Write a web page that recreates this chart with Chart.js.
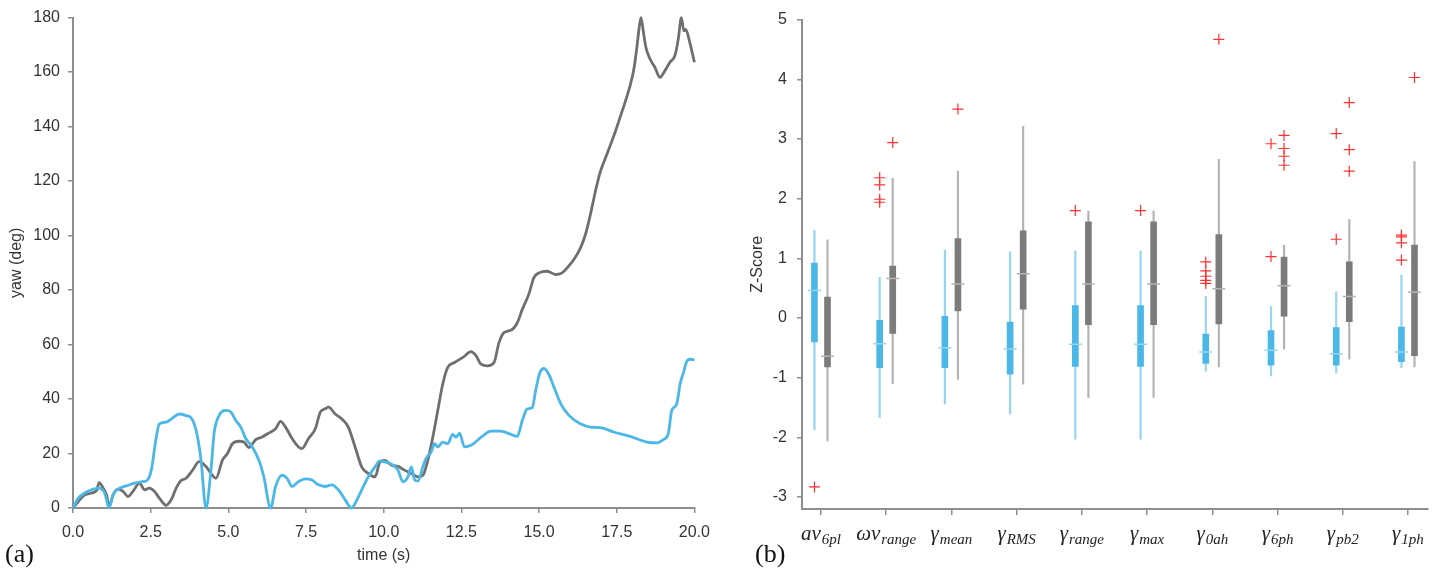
<!DOCTYPE html>
<html>
<head>
<meta charset="utf-8">
<script src="https://cdn.jsdelivr.net/npm/chart.js@4.4.1/dist/chart.umd.min.js"></script>
<style>
  body { margin: 0; background: #fff; width: 1437px; height: 569px; overflow: hidden; position: relative; }
  canvas { position: absolute; top: 0; }
  #yawChart { left: 0; }
  #zChart { left: 720px; }
  .tag { position: absolute; font-family: 'Liberation Serif', serif; font-size: 26px; line-height: 26px; color: #111; }
</style>
</head>
<body>
<canvas id="yawChart" width="720" height="569"></canvas>
<canvas id="zChart" width="717" height="569"></canvas>
<div class="tag" style="left:5px; top:541px">(a)</div>
<div class="tag" style="left:755px; top:541px">(b)</div>
<script>
// (a) yaw vs time
const blueTime = [0, 0.17, 0.38, 0.6, 0.81, 0.92, 1.02, 1.16, 1.29, 1.45, 1.72, 1.98, 2.25, 2.38, 2.52, 2.68, 2.78, 3.0, 3.21, 3.42,
  3.64, 3.8, 3.9, 4.01, 4.12, 4.28, 4.44, 4.54, 4.7, 4.92, 5.08, 5.24, 5.4, 5.56, 5.77, 5.98, 6.14, 6.36, 6.52, 6.73,
  6.89, 7.05, 7.26, 7.48, 7.69, 7.9, 8.12, 8.33, 8.54, 8.76, 8.97, 9.08, 9.29, 9.5, 9.72, 9.88, 10.04, 10.25, 10.46, 10.62,
  10.78, 10.89, 11.0, 11.1, 11.26, 11.36, 11.53, 11.64, 11.74, 11.9, 12.06, 12.22, 12.33, 12.44, 12.6, 12.81, 13.14, 13.45, 13.77, 14.1,
  14.3, 14.46, 14.62, 14.78, 14.89, 15.03, 15.16, 15.32, 15.48, 15.7, 15.96, 16.33, 16.65, 16.97, 17.4, 17.93, 18.47, 18.79, 19.0, 19.16,
  19.27, 19.43, 19.54, 19.65, 19.76, 19.86, 20.0]
const blueYaw = [0, 3.6, 5.5, 6.7, 7.3, 6.9, 5.5, 0, 4.8, 6.9, 8.1, 9.1, 9.7, 10.1, 13.9, 26, 30.9, 31.5, 33.1, 34.5,
  33.9, 33.1, 30.9, 26, 17.6, 0, 13.9, 27.3, 33.9, 35.8, 35.2, 32.1, 29.7, 25.5, 22.4, 17.6, 11.5, 0, 7.9, 12.1,
  10.9, 7.9, 9.7, 10.7, 10.3, 8.5, 7.9, 8.5, 6.7, 3.0, 0, 1.7, 6.6, 11.4, 15.1, 17.3, 16.9, 16.1, 13.9, 9.6,
  11.4, 15.1, 10.2, 9.9, 15.1, 18.1, 20.6, 23.6, 22.4, 24.2, 23.6, 27.0, 26.0, 27.5, 22.4, 23.0, 26.0, 28.2, 28.2, 27.0,
  26.3, 32.1, 36.4, 36.8, 43.1, 49.8, 51.2, 48.9, 44.3, 38.2, 34.0, 30.9, 29.7, 29.5, 27.9, 26.3, 24.2, 23.9, 25.1, 27.3,
  35.8, 38.2, 45.5, 49.8, 54.0, 54.6, 54.3]

const greyTime = [0, 0.17, 0.38, 0.6, 0.76, 0.84, 0.97, 1.08, 1.16, 1.29, 1.45, 1.61, 1.77, 1.93, 2.14, 2.3, 2.46, 2.62, 2.78, 3.0,
  3.16, 3.32, 3.48, 3.64, 3.85, 4.06, 4.28, 4.44, 4.6, 4.81, 4.97, 5.13, 5.34, 5.5, 5.66, 5.88, 6.09, 6.3, 6.52, 6.68,
  6.84, 7.05, 7.26, 7.37, 7.58, 7.8, 7.96, 8.12, 8.22, 8.44, 8.65, 8.86, 9.08, 9.29, 9.5, 9.72, 9.88, 10.04, 10.25, 10.46,
  10.67, 10.89, 11.1, 11.26, 11.42, 11.58, 11.74, 11.9, 12.06, 12.28, 12.55, 12.81, 12.97, 13.13, 13.34, 13.55, 13.71, 13.87, 14.09, 14.3,
  14.46, 14.67, 14.83, 15.0, 15.26, 15.53, 15.74, 15.9, 16.12, 16.33, 16.49, 16.65, 16.81, 16.97, 17.13, 17.29, 17.45, 17.61, 17.77, 17.93,
  18.06, 18.14, 18.23, 18.28, 18.36, 18.44, 18.57, 18.73, 18.89, 19.05, 19.21, 19.37, 19.48, 19.58, 19.66, 19.72, 19.85, 20.0]
const greyYaw = [0, 2.4, 4.8, 5.5, 6.4, 9.3, 7.3, 4.8, 0.6, 4.8, 6.9, 6.1, 4.2, 6.1, 9.1, 6.7, 7.3, 6.1, 3.6, 1.0,
  3.0, 7.3, 10.1, 10.9, 13.9, 17.0, 15.2, 12.7, 10.9, 17.6, 20.0, 23.6, 24.5, 24.2, 22.2, 25.1, 26.1, 27.5, 29.1, 31.8,
  29.7, 25.5, 22.4, 21.8, 25.5, 29.1, 35.2, 36.4, 37.0, 34.5, 32.7, 29.7, 22.4, 15.1, 12.7, 11.4, 16.9, 17.5, 15.7, 15.3,
  13.9, 12.7, 11.4, 12.0, 17.5, 26.0, 35.8, 45.5, 51.6, 53.4, 55.3, 57.4, 55.9, 52.8, 52.2, 53.4, 60.7, 64.4, 65.2, 68.0,
  72.9, 78.5, 84.5, 86.3, 86.9, 85.7, 86.3, 88.1, 91.2, 95.4, 100.3, 107.6, 116.1, 123.4, 128.3, 133.1, 138.0, 143.5, 149.0, 155.0,
  161.7, 168.4, 177.0, 180, 174.5, 169.0, 164.8, 161.7, 158.1, 160.5, 163.6, 166.0, 172.1, 180, 175.1, 175.7, 170.9, 163.6]

const timeTicks = [0, 2.5, 5, 7.5, 10, 12.5, 15, 17.5, 20]
const yawTicks = [0, 20, 40, 60, 80, 100, 120, 140, 160, 180]

// (b) z-score box plots
const featMain = ['av', 'ωv', 'γ', 'γ', 'γ', 'γ', 'γ', 'γ', 'γ', 'γ']
const featSub = ['6pl', 'range', 'mean', 'RMS', 'range', 'max', '0ah', '6ph', 'pb2', '1ph']
const zTicks = [-3, -2, -1, 0, 1, 2, 3, 4, 5]

const blueLow = [-1.87, -1.67, -1.44, -1.61, -2.03, -2.03, -0.89, -0.97, -0.92, -0.83]
const blueQ1 = [-0.40, -0.83, -0.83, -0.94, -0.81, -0.81, -0.76, -0.79, -0.79, -0.73]
const blueMed = [0.46, -0.43, -0.50, -0.52, -0.44, -0.44, -0.57, -0.54, -0.60, -0.57]
const blueQ3 = [0.92, -0.04, 0.03, -0.07, 0.21, 0.21, -0.27, -0.21, -0.16, -0.15]
const blueHigh = [1.47, 0.68, 1.14, 1.11, 1.12, 1.12, 0.36, 0.19, 0.44, 0.72]
const blueOut = [[-2.83], [2.35, 2.23, 1.99, 1.94], [], [], [1.80], [1.80], [0.94, 0.79, 0.70, 0.63, 0.58], [2.92, 1.03], [3.09, 1.32], [1.39, 1.36, 1.26, 0.97]]

const greyLow = [-2.06, -1.10, -1.03, -1.11, -1.33, -1.33, -0.82, -0.52, -0.69, -0.82]
const greyQ1 = [-0.82, -0.26, 0.12, 0.15, -0.11, -0.11, -0.10, 0.03, -0.06, -0.63]
const greyMed = [-0.64, 0.66, 0.57, 0.74, 0.57, 0.57, 0.49, 0.54, 0.36, 0.43]
const greyQ3 = [0.35, 0.87, 1.33, 1.46, 1.61, 1.61, 1.40, 1.02, 0.94, 1.22]
const greyHigh = [1.31, 2.34, 2.46, 3.21, 1.79, 1.79, 2.66, 1.22, 1.65, 2.62]
const greyOut = [[], [2.94], [3.5], [], [], [], [4.67], [3.06, 2.84, 2.71, 2.56], [3.61, 2.82, 2.46], [4.03]]

const BLUE = '#4bb7e7'
const BLUE_LIGHT = '#96d4f1'
const GREY = '#6f6f6f'
const GREY_BOX = '#7b7b7b'
const GREY_LIGHT = '#b3b3b3'
const AXIS = '#8e8e8e'
const TEXT = '#333'
const SANS = '"Liberation Sans", Arial, sans-serif'
const SERIF = '"Liberation Serif", serif'

const pts = (xs, ys) => xs.map((x, i) => ({ x, y: ys[i] }))

// ---------- panel (a) ----------
new Chart(document.getElementById('yawChart'), {
  type: 'line',
  data: {
    datasets: [
      { data: pts(blueTime, blueYaw), borderColor: BLUE, borderWidth: 2.8, pointRadius: 0, cubicInterpolationMode: 'monotone', clip: 4, order: 0 },
      { data: pts(greyTime, greyYaw), borderColor: GREY, borderWidth: 2.8, pointRadius: 0, cubicInterpolationMode: 'monotone', clip: 4, order: 1 }
    ]
  },
  options: {
    responsive: false,
    animation: false,
    devicePixelRatio: 1,
    layout: { padding: { left: 0, right: 22, top: 15, bottom: 0 } },
    plugins: { legend: { display: false }, tooltip: { enabled: false } },
    scales: {
      x: {
        type: 'linear', min: 0, max: 20,
        afterBuildTicks: s => { s.ticks = timeTicks.map(v => ({ value: v })) },
        afterFit: s => { s.height = 61 },
        ticks: { callback: v => v.toFixed(1), padding: 10, color: TEXT, font: { family: SANS, size: 16 }, maxRotation: 0, autoSkip: false },
        grid: { drawOnChartArea: false, tickLength: 5, color: AXIS, lineWidth: 1.5 },
        border: { color: AXIS, width: 2 },
        title: { display: true, text: 'time (s)', color: TEXT, font: { family: SANS, size: 16 }, padding: { top: 0, bottom: 4 } }
      },
      y: {
        min: 0, max: 180,
        afterBuildTicks: s => { s.ticks = yawTicks.map(v => ({ value: v })) },
        afterFit: s => { s.width = 73 },
        ticks: { padding: 8, color: TEXT, font: { family: SANS, size: 16 } },
        grid: { drawOnChartArea: false, tickLength: 5, color: AXIS, lineWidth: 1.5 },
        border: { color: AXIS, width: 2 },
        title: { display: true, text: 'yaw (deg)', color: TEXT, font: { family: SANS, size: 16 }, padding: { top: 7, bottom: 0 } }
      }
    }
  }
})

// ---------- panel (b) ----------
const blueX = featSub.map((_, i) => i + 1 - 0.1)
const greyX = featSub.map((_, i) => i + 1 + 0.1)
const spans = (xs, lo, hi) => xs.map((x, i) => ({ x, y: [lo[i], hi[i]] }))
const outliers = []
blueOut.forEach((vals, i) => vals.forEach(v => outliers.push({ x: blueX[i], y: v })))
greyOut.forEach((vals, i) => vals.forEach(v => outliers.push({ x: greyX[i], y: v })))

const featLabels = {
  id: 'featLabels',
  afterDraw(chart) {
    const ctx = chart.ctx
    const xs = chart.scales.x
    ctx.save()
    ctx.fillStyle = '#222'
    ctx.textAlign = 'left'
    ctx.textBaseline = 'alphabetic'
    featMain.forEach((m, i) => {
      ctx.font = 'italic 21px ' + SERIF
      const wm = ctx.measureText(m).width
      ctx.font = 'italic 15px ' + SERIF
      const ws = ctx.measureText(featSub[i]).width
      const x0 = xs.getPixelForValue(i + 1) - (wm + ws + 1) / 2
      ctx.font = 'italic 21px ' + SERIF
      ctx.fillText(m, x0, 540)
      ctx.font = 'italic 15px ' + SERIF
      ctx.fillText(featSub[i], x0 + wm + 1, 544)
    })
    ctx.restore()
  }
}

new Chart(document.getElementById('zChart'), {
  type: 'bar',
  data: {
    datasets: [
      { type: 'scatter', data: pts(blueX, blueMed), pointStyle: 'line', pointRadius: 6.5, pointBorderWidth: 1.5, borderColor: BLUE_LIGHT, order: 0 },
      { type: 'scatter', data: pts(greyX, greyMed), pointStyle: 'line', pointRadius: 6.5, pointBorderWidth: 1.5, borderColor: GREY_LIGHT, order: 0 },
      { type: 'scatter', data: outliers, pointStyle: 'cross', pointRadius: 5.5, pointBorderWidth: 1.2, borderColor: '#ff3030', order: 0 },
      { data: spans(blueX, blueQ1, blueQ3), backgroundColor: BLUE, barThickness: 6, grouped: false, order: 1 },
      { data: spans(greyX, greyQ1, greyQ3), backgroundColor: GREY_BOX, barThickness: 6, grouped: false, order: 1 },
      { data: spans(blueX, blueLow, blueHigh), backgroundColor: BLUE_LIGHT, barThickness: 1.5, grouped: false, order: 2 },
      { data: spans(greyX, greyLow, greyHigh), backgroundColor: GREY_LIGHT, barThickness: 1.5, grouped: false, order: 2 }
    ]
  },
  options: {
    responsive: false,
    animation: false,
    devicePixelRatio: 1,
    layout: { padding: { left: 0, right: 9, top: 17, bottom: 0 } },
    plugins: { legend: { display: false }, tooltip: { enabled: false } },
    scales: {
      x: {
        type: 'linear', min: 0.709, max: 10.307, offset: false,
        afterBuildTicks: s => { s.ticks = featSub.map((_, i) => ({ value: i + 1 })) },
        afterFit: s => { s.height = 60 },
        ticks: { display: false },
        grid: { drawOnChartArea: false, offset: false, tickLength: 6, color: AXIS, lineWidth: 1.5 },
        border: { color: AXIS, width: 2 }
      },
      y: {
        min: -3.2, max: 5,
        afterBuildTicks: s => { s.ticks = zTicks.map(v => ({ value: v })) },
        afterFit: s => { s.width = 82 },
        ticks: { padding: 10, color: TEXT, font: { family: SANS, size: 16 } },
        grid: { drawOnChartArea: false, tickLength: 5, color: AXIS, lineWidth: 1.5 },
        border: { color: AXIS, width: 2 },
        title: { display: true, text: 'Z-Score', color: TEXT, font: { family: SANS, size: 16 }, padding: { top: 28, bottom: 0 } }
      }
    }
  },
  plugins: [featLabels]
})
</script>
</body>
</html>
